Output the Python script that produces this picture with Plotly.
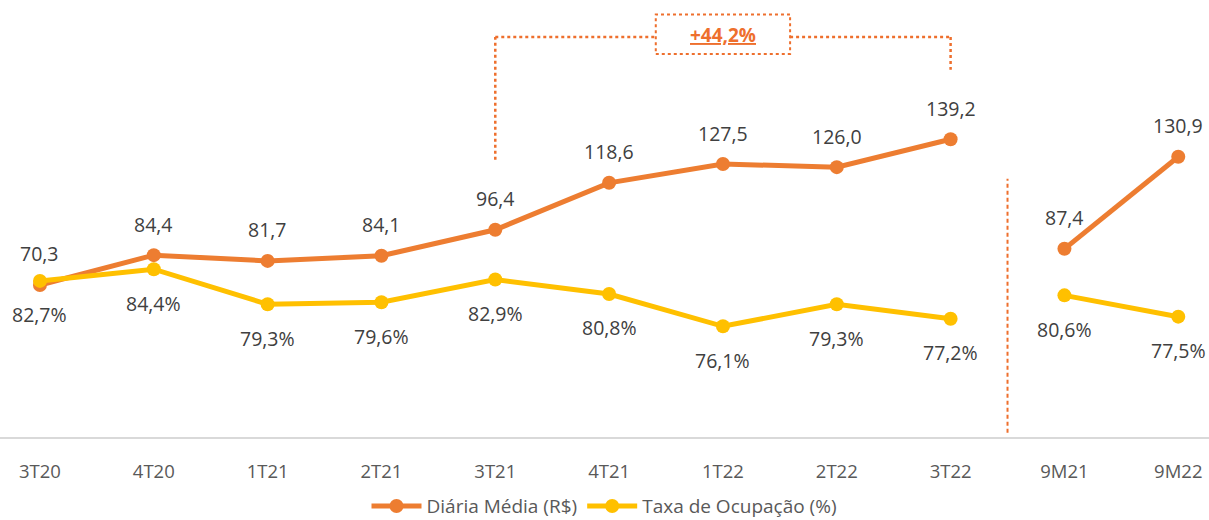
import plotly.graph_objects as go

categories = ["3T20", "4T20", "1T21", "2T21", "3T21", "4T21", "1T22", "2T22", "3T22", "9M21", "9M22"]
diaria = [70.3, 84.4, 81.7, 84.1, 96.4, 118.6, 127.5, 126.0, 139.2, 87.4, 130.9]
ocupacao = [82.7, 84.4, 79.3, 79.6, 82.9, 80.8, 76.1, 79.3, 77.2, 80.6, 77.5]
n_quarters = 9
growth_label = "+44,2%"

ORANGE = "#ED7D31"
YELLOW = "#FFC000"
BRACKET = "#EE6F2D"
TXT = "#404040"
AXTXT = "#595959"
FONT = "Open Sans"

def br(v, pct=False):
    s = f"{v:.1f}".replace(".", ",")
    return s + "%" if pct else s

fig = go.Figure()
q, a = slice(0, n_quarters), slice(n_quarters, None)
for sl, show in ((q, True), (a, False)):
    fig.add_trace(go.Scatter(x=categories[sl], y=diaria[sl], mode="lines+markers",
                             name="Diária Média (R$)", legendgroup="d", showlegend=show,
                             line=dict(color=ORANGE, width=5), marker=dict(size=14, color=ORANGE),
                             yaxis="y", hoverinfo="skip"))
for sl, show in ((q, True), (a, False)):
    fig.add_trace(go.Scatter(x=categories[sl], y=ocupacao[sl], mode="lines+markers",
                             name="Taxa de Ocupação (%)", legendgroup="o", showlegend=show,
                             line=dict(color=YELLOW, width=5), marker=dict(size=14, color=YELLOW),
                             yaxis="y2", hoverinfo="skip"))

annotations = []
for c, v in zip(categories, diaria):
    annotations.append(dict(x=c, y=v, xref="x", yref="y", text=br(v), showarrow=False,
                            yshift=31, font=dict(family=FONT, size=19.5, color=TXT)))
for c, v in zip(categories, ocupacao):
    annotations.append(dict(x=c, y=v, xref="x", yref="y2", text=br(v, True), showarrow=False,
                            yshift=-34, font=dict(family=FONT, size=19.5, color=TXT)))

# growth bracket between 3T21 and 3T22
i0, i1 = 4, 8
mid = (i0 + i1) / 2
annotations.append(dict(x=mid, y=188.7, xref="x", yref="y", text=f"<b><u>{growth_label}</u></b>",
                        showarrow=False, font=dict(family=FONT, size=19, color=BRACKET)))

shapes = []
dot = dict(color=BRACKET, width=2.5, dash="dot")
y_top = 187.5
shapes.append(dict(type="line", xref="x", yref="y", x0=i0, x1=i0, y0=129.5, y1=y_top, line=dot))
shapes.append(dict(type="line", xref="x", yref="y", x0=i0, x1=mid - 0.59, y0=y_top, y1=y_top, line=dot))
shapes.append(dict(type="line", xref="x", yref="y", x0=mid + 0.59, x1=i1, y0=y_top, y1=y_top, line=dot))
shapes.append(dict(type="line", xref="x", yref="y", x0=i1, x1=i1, y0=y_top, y1=172, line=dot))
shapes.append(dict(type="rect", xref="x", yref="y", x0=mid - 0.59, x1=mid + 0.59, y0=179.5, y1=198.2,
                   line=dict(color=BRACKET, width=2, dash="dot")))
# separator between quarterly and 9M
shapes.append(dict(type="line", xref="x", yref="y", x0=n_quarters - 0.5, x1=n_quarters - 0.5,
                   y0=0.5, y1=120.5, line=dict(color=BRACKET, width=2, dash="4px,3px")))

fig.update_layout(
    width=1209, height=520,
    margin=dict(l=0, r=0, t=10, b=83, autoexpand=False),
    paper_bgcolor="white", plot_bgcolor="white",
    font=dict(family=FONT, size=18, color=AXTXT),
    xaxis=dict(type="category", range=[-0.351, 10.27], showgrid=False, zeroline=False,
               showline=True, linecolor="#D9D9D9", linewidth=2, ticks="", automargin=False,
               tickfont=dict(family=FONT, size=18.5, color=AXTXT), ticklabelstandoff=17),
    yaxis=dict(range=[-1.56, 200.3], visible=False, showgrid=False, zeroline=False),
    yaxis2=dict(range=[60, 122.1], visible=False, overlaying="y", showgrid=False, zeroline=False),
    showlegend=True,
    legend=dict(orientation="h", x=0.5, xanchor="center", y=-0.162, yanchor="middle",
                font=dict(family=FONT, size=19, color=AXTXT), itemwidth=50,
                tracegroupgap=0),
    annotations=annotations, shapes=shapes,
)

fig.write_html("out.html", config={"displayModeBar": False},
               post_script="document.body.style.margin='0';")
